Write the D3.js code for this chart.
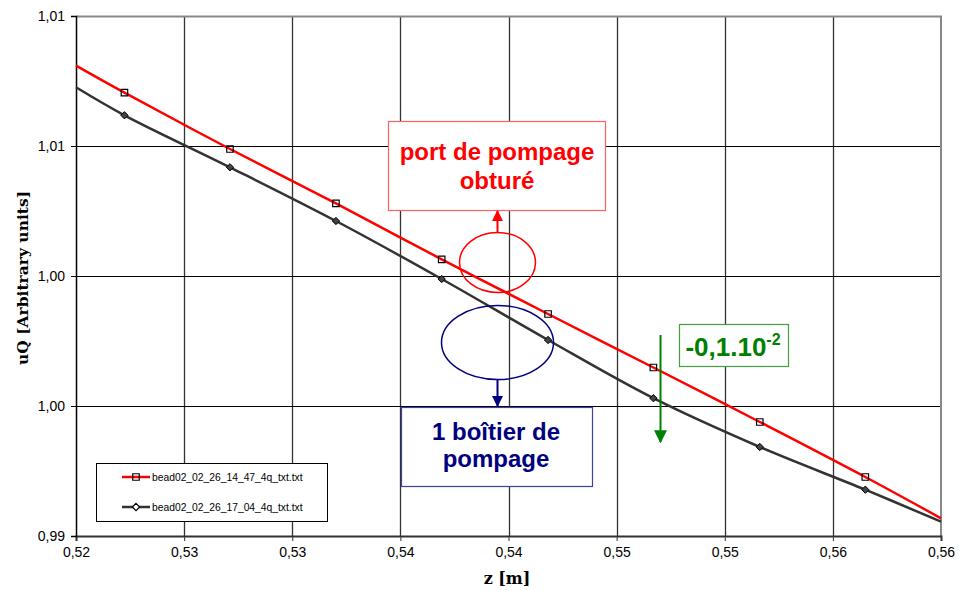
<!DOCTYPE html>
<html>
<head>
<meta charset="utf-8">
<script src="https://cdn.jsdelivr.net/npm/d3@7"></script>
<style>
  body { margin: 0; background: #fff; }
  svg { display: block; }
</style>
</head>
<body>
<div id="chart"></div>
<script>
// z positions (first and last are the plot edges, no marker there)
const zRed = [0.52, 0.52224, 0.52712, 0.53202, 0.53691, 0.54183, 0.5467, 0.55162, 0.5565, 0.56];
const uqRed = [1.00809, 1.00705, 1.004885, 1.002796, 1.000642, 0.998538, 0.996481, 0.994385, 0.992269, 0.990681];
const zBlack = [0.52, 0.52224, 0.52712, 0.53202, 0.53691, 0.54183, 0.5467, 0.55162, 0.5565, 0.56];
const uqBlack = [1.007258, 1.006181, 1.004181, 1.002115, 0.999885, 0.997538, 0.9953, 0.993423, 0.991781, 0.99055];

const seriesNames = ["bead02_02_26_14_47_4q_txt.txt", "bead02_02_26_17_04_4q_txt.txt"];

const xTicks = [0.52, 0.525, 0.53, 0.535, 0.54, 0.545, 0.55, 0.555, 0.56];
const xTickLabels = ["0,52", "0,53", "0,53", "0,54", "0,54", "0,55", "0,55", "0,56", "0,56"];
const yTicks = [0.99, 0.995, 1.0, 1.005, 1.01];
const yTickLabels = ["0,99", "1,00", "1,00", "1,01", "1,01"];

const width = 959, height = 590;
const margin = { top: 16, right: 18, bottom: 54, left: 76 };
const w = width - margin.left - margin.right;
const h = height - margin.top - margin.bottom;

const svg = d3.select("#chart").append("svg")
  .attr("width", width)
  .attr("height", height);

const g = svg.append("g").attr("transform", `translate(${margin.left},${margin.top})`);

const x = d3.scaleLinear().domain([0.52, 0.56]).range([0, w]);
const y = d3.scaleLinear().domain([0.99, 1.01]).range([h, 0]);

// grid
g.append("g")
  .selectAll("line")
  .data(xTicks.slice(1, -1))
  .join("line")
  .attr("x1", (d) => Math.round(x(d)) + 0.5)
  .attr("x2", (d) => Math.round(x(d)) + 0.5)
  .attr("y1", 0)
  .attr("y2", h)
  .attr("stroke", "#333")
  .attr("stroke-width", 1.3);

g.append("g")
  .selectAll("line")
  .data(yTicks.slice(1, -1))
  .join("line")
  .attr("x1", 0)
  .attr("x2", w)
  .attr("y1", (d) => Math.round(y(d)) + 0.5)
  .attr("y2", (d) => Math.round(y(d)) + 0.5)
  .attr("stroke", "#000")
  .attr("stroke-width", 1);

// top and right frame
g.append("path")
  .attr("d", `M0,0.5H${w}V${h}`)
  .attr("fill", "none")
  .attr("stroke", "#888")
  .attr("stroke-width", 2);

// axes
const tickFont = "Arial, 'Liberation Sans', sans-serif";
const xAxis = g.append("g")
  .attr("transform", `translate(0,${h})`)
  .call(d3.axisBottom(x).tickValues(xTicks).tickSize(5).tickPadding(6)
    .tickFormat((d, i) => xTickLabels[i]));
xAxis.select(".domain").attr("stroke", "#333").attr("stroke-width", 2);
xAxis.selectAll(".tick line").attr("stroke", "#333");
xAxis.selectAll("text")
  .attr("font-family", tickFont)
  .attr("font-size", 14)
  .attr("fill", "#000");

const yAxis = g.append("g")
  .call(d3.axisLeft(y).tickValues(yTicks).tickSize(5).tickPadding(6)
    .tickFormat((d, i) => yTickLabels[i]));
yAxis.select(".domain").attr("stroke", "#000").attr("stroke-width", 1.5);
yAxis.selectAll(".tick line").attr("stroke", "#000");
yAxis.selectAll("text")
  .attr("font-family", tickFont)
  .attr("font-size", 14)
  .attr("fill", "#000");

// axis titles
const titleFont = "'DejaVu Serif', serif";
svg.append("text")
  .attr("x", 507)
  .attr("y", 584)
  .attr("text-anchor", "middle")
  .attr("font-family", titleFont)
  .attr("font-weight", "bold")
  .attr("font-size", 16)
  .text("z [m]");

svg.append("text")
  .attr("transform", `translate(28,${margin.top + h / 2 + 2}) rotate(-90)`)
  .attr("text-anchor", "middle")
  .attr("font-family", titleFont)
  .attr("font-weight", "bold")
  .attr("font-size", 15.5)
  .text("uQ [Arbitrary units]");

// series
const line = d3.line()
  .x((d) => x(d[0]))
  .y((d) => y(d[1]))
  .curve(d3.curveCatmullRom);

const redData = zRed.map((z, i) => [z, uqRed[i]]);
const blackData = zBlack.map((z, i) => [z, uqBlack[i]]);

const plot = g.append("g");

plot.append("path")
  .datum(blackData)
  .attr("d", line)
  .attr("fill", "none")
  .attr("stroke", "#333")
  .attr("stroke-width", 2.5);

plot.append("path")
  .datum(redData)
  .attr("d", line)
  .attr("fill", "none")
  .attr("stroke", "#ff0000")
  .attr("stroke-width", 2.5);

const square = d3.symbol().type(d3.symbolSquare).size(42);
const diamond = d3.symbol().type(d3.symbolDiamond2).size(34);

plot.append("g")
  .selectAll("path")
  .data(redData.slice(1, -1))
  .join("path")
  .attr("transform", (d) => `translate(${x(d[0])},${y(d[1])})`)
  .attr("d", square)
  .attr("fill", "none")
  .attr("stroke", "#000")
  .attr("stroke-width", 1.2);

plot.append("g")
  .selectAll("path")
  .data(blackData.slice(1, -1))
  .join("path")
  .attr("transform", (d) => `translate(${x(d[0])},${y(d[1])})`)
  .attr("d", diamond)
  .attr("fill", "#444")
  .attr("stroke", "#000")
  .attr("stroke-width", 1);

// legend
const legend = svg.append("g").attr("transform", "translate(96,463)");
legend.append("rect")
  .attr("x", 0.5).attr("y", 0.5)
  .attr("width", 231).attr("height", 58)
  .attr("fill", "#fff")
  .attr("stroke", "#000");

const legendItems = [
  { name: seriesNames[0], color: "#ff0000", sym: square, fill: "none" },
  { name: seriesNames[1], color: "#333", sym: diamond, fill: "#fff" },
];
legendItems.forEach((it, i) => {
  const ly = 14 + i * 30;
  legend.append("line")
    .attr("x1", 26).attr("x2", 54)
    .attr("y1", ly).attr("y2", ly)
    .attr("stroke", it.color)
    .attr("stroke-width", 2.5);
  legend.append("path")
    .attr("transform", `translate(40,${ly})`)
    .attr("d", it.sym)
    .attr("fill", it.fill)
    .attr("stroke", "#000")
    .attr("stroke-width", 1.2);
  legend.append("text")
    .attr("x", 56)
    .attr("y", ly + 3.8)
    .attr("font-family", tickFont)
    .attr("font-size", 10.3)
    .attr("fill", "#000")
    .text(it.name);
});

// annotations
const defs = svg.append("defs");
function marker(id, color, size) {
  defs.append("marker")
    .attr("id", id)
    .attr("viewBox", "0 0 10 10")
    .attr("refX", 9).attr("refY", 5)
    .attr("markerUnits", "userSpaceOnUse")
    .attr("markerWidth", size).attr("markerHeight", size)
    .attr("orient", "auto")
    .append("path")
    .attr("d", "M0,0L10,5L0,10Z")
    .attr("fill", color);
}
marker("arRed", "#ff0000", 11);
marker("arBlue", "#000080", 11);
marker("arGreen", "#008000", 13);

const ann = svg.append("g");
const annFont = "Arial, 'Liberation Sans', sans-serif";

// red box
ann.append("rect")
  .attr("x", 388.5).attr("y", 121.5)
  .attr("width", 217).attr("height", 89)
  .attr("fill", "#fff")
  .attr("stroke", "#ff6060")
  .attr("stroke-width", 1.2);
ann.append("text")
  .attr("x", 497).attr("y", 160)
  .attr("text-anchor", "middle")
  .attr("font-family", annFont)
  .attr("font-weight", "bold")
  .attr("font-size", 24)
  .attr("fill", "#ff0000")
  .text("port de pompage");
ann.append("text")
  .attr("x", 497).attr("y", 189)
  .attr("text-anchor", "middle")
  .attr("font-family", annFont)
  .attr("font-weight", "bold")
  .attr("font-size", 24)
  .attr("fill", "#ff0000")
  .text("obturé");

ann.append("ellipse")
  .attr("cx", 497.5).attr("cy", 262.5)
  .attr("rx", 38).attr("ry", 30)
  .attr("fill", "none")
  .attr("stroke", "#ff0000")
  .attr("stroke-width", 1.5);
ann.append("line")
  .attr("x1", 497.5).attr("y1", 232)
  .attr("x2", 497.5).attr("y2", 211)
  .attr("stroke", "#ff0000")
  .attr("stroke-width", 2)
  .attr("marker-end", "url(#arRed)");

// blue box
ann.append("ellipse")
  .attr("cx", 497.5).attr("cy", 342.5)
  .attr("rx", 56).attr("ry", 37)
  .attr("fill", "none")
  .attr("stroke", "#000080")
  .attr("stroke-width", 1.5);
ann.append("line")
  .attr("x1", 497.5).attr("y1", 380)
  .attr("x2", 497.5).attr("y2", 406)
  .attr("stroke", "#000080")
  .attr("stroke-width", 2)
  .attr("marker-end", "url(#arBlue)");
ann.append("rect")
  .attr("x", 401.5).attr("y", 407.5)
  .attr("width", 191).attr("height", 79)
  .attr("fill", "#fff")
  .attr("stroke", "#4040a0")
  .attr("stroke-width", 1.2);
ann.append("text")
  .attr("x", 496).attr("y", 440)
  .attr("text-anchor", "middle")
  .attr("font-family", annFont)
  .attr("font-weight", "bold")
  .attr("font-size", 24)
  .attr("fill", "#000080")
  .text("1 boîtier de");
ann.append("text")
  .attr("x", 496).attr("y", 467)
  .attr("text-anchor", "middle")
  .attr("font-family", annFont)
  .attr("font-weight", "bold")
  .attr("font-size", 24)
  .attr("fill", "#000080")
  .text("pompage");

// green
ann.append("line")
  .attr("x1", 660.5).attr("y1", 335)
  .attr("x2", 660.5).attr("y2", 442)
  .attr("stroke", "#008000")
  .attr("stroke-width", 2)
  .attr("marker-end", "url(#arGreen)");
ann.append("rect")
  .attr("x", 679.5).attr("y", 324.5)
  .attr("width", 109).attr("height", 42)
  .attr("fill", "#fff")
  .attr("stroke", "#40a040")
  .attr("stroke-width", 1.2);
const gt = ann.append("text")
  .attr("x", 733).attr("y", 356)
  .attr("text-anchor", "middle")
  .attr("font-family", annFont)
  .attr("font-weight", "bold")
  .attr("font-size", 26)
  .attr("fill", "#008000");
gt.append("tspan").text("-0,1.10");
gt.append("tspan").attr("dy", -11).attr("font-size", 16).text("-2");
</script>
</body>
</html>
